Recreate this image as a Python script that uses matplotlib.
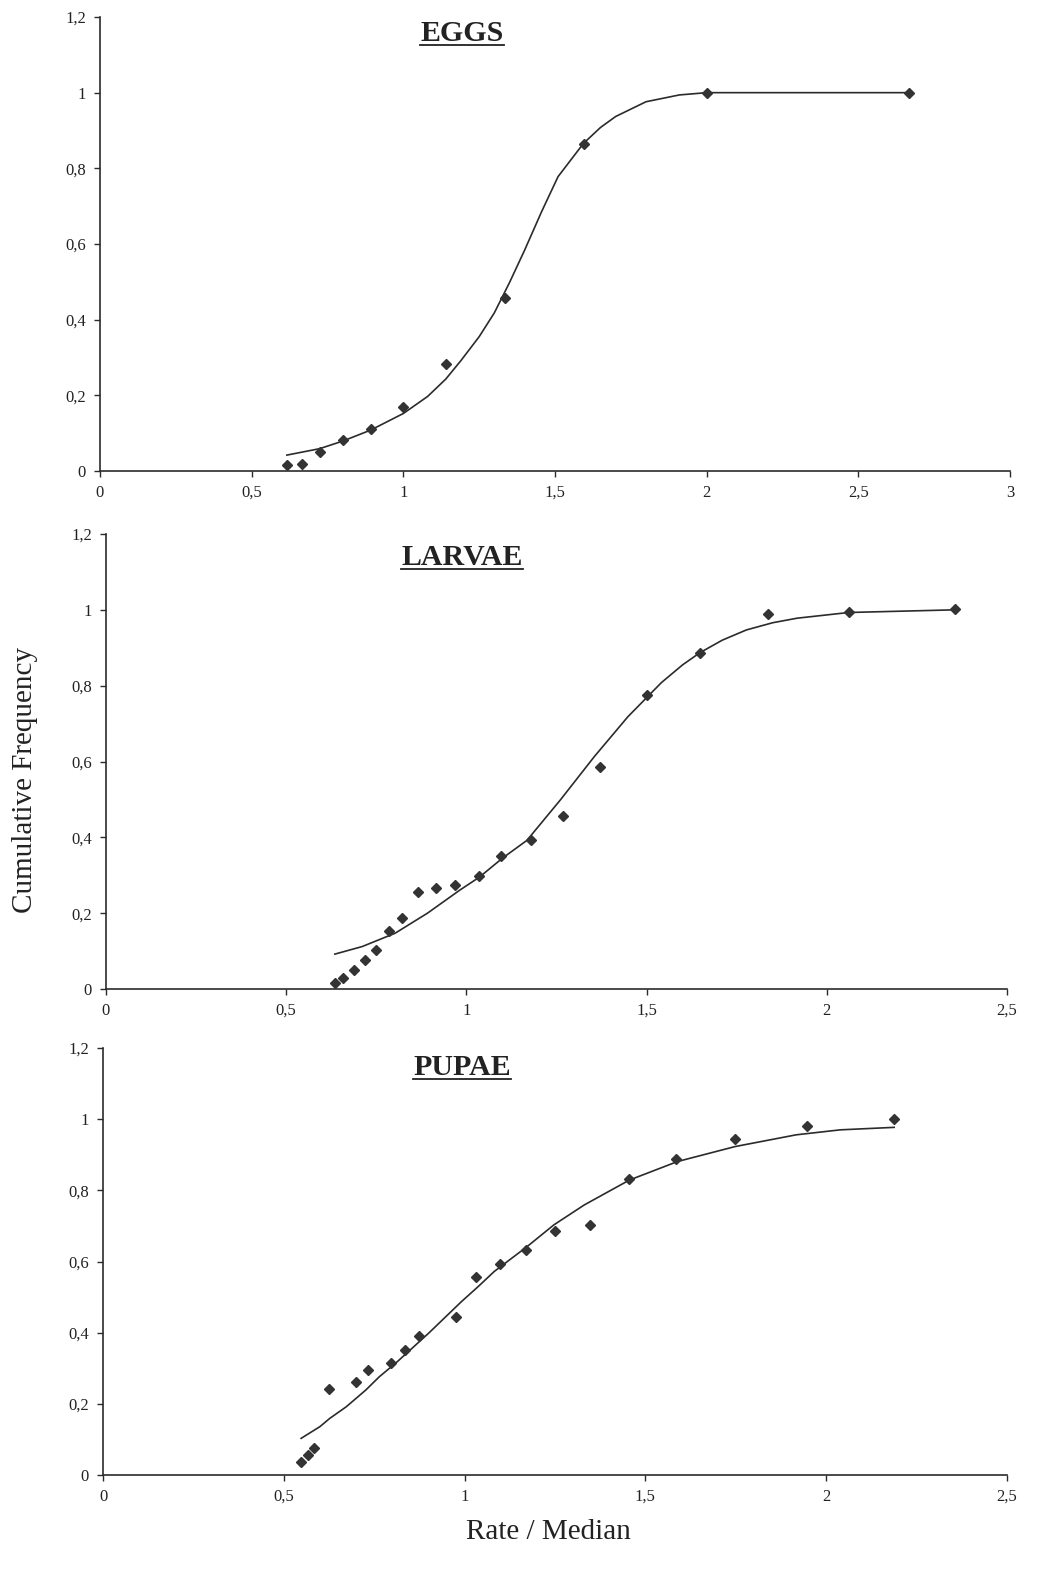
import matplotlib.pyplot as plt
from matplotlib.lines import Line2D

# Data.
eggs_x = [0.616, 0.665, 0.724, 0.800, 0.892, 1.000, 1.142, 1.335, 1.594, 2.000, 2.667]
eggs_y = [0.015, 0.018, 0.049, 0.083, 0.110, 0.168, 0.282, 0.458, 0.864, 1.000, 1.000]
eggs_fit_x = [0.616, 0.724, 0.800, 0.892, 1.000, 1.080, 1.140, 1.190, 1.250, 1.300, 1.350,
              1.400, 1.455, 1.510, 1.594, 1.650, 1.700, 1.800, 1.910, 2.000, 2.667]
eggs_fit_y = [0.042, 0.059, 0.079, 0.108, 0.152, 0.197, 0.243, 0.292, 0.355, 0.418, 0.498,
              0.584, 0.684, 0.778, 0.866, 0.908, 0.937, 0.976, 0.994, 1.000, 1.000]

larvae_x = [0.635, 0.658, 0.688, 0.718, 0.750, 0.785, 0.821, 0.867, 0.917, 0.969, 1.034,
            1.097, 1.178, 1.268, 1.372, 1.500, 1.648, 1.836, 2.061, 2.355]
larvae_y = [0.015, 0.028, 0.050, 0.077, 0.103, 0.153, 0.187, 0.257, 0.266, 0.274, 0.299,
            0.351, 0.393, 0.456, 0.585, 0.776, 0.887, 0.989, 0.995, 1.002]
larvae_fit_x = [0.635, 0.711, 0.802, 0.892, 0.982, 1.036, 1.100, 1.168, 1.261, 1.355, 1.448,
                1.541, 1.600, 1.648, 1.710, 1.777, 1.850, 1.918, 2.061, 2.355]
larvae_fit_y = [0.092, 0.112, 0.147, 0.200, 0.261, 0.295, 0.345, 0.392, 0.499, 0.613, 0.718,
                0.808, 0.855, 0.887, 0.920, 0.947, 0.966, 0.978, 0.993, 1.000]

pupae_x = [0.548, 0.566, 0.583, 0.624, 0.700, 0.732, 0.797, 0.836, 0.875, 0.975, 1.032,
           1.098, 1.171, 1.250, 1.346, 1.456, 1.586, 1.748, 1.946, 2.188]
pupae_y = [0.036, 0.056, 0.075, 0.241, 0.261, 0.295, 0.316, 0.351, 0.391, 0.445, 0.556,
           0.592, 0.633, 0.687, 0.703, 0.832, 0.888, 0.944, 0.982, 1.000]
pupae_fit_x = [0.548, 0.600, 0.627, 0.673, 0.727, 0.764, 0.809, 0.900, 0.991, 1.037, 1.082,
               1.173, 1.247, 1.331, 1.456, 1.589, 1.748, 1.917, 2.039, 2.188]
pupae_fit_y = [0.103, 0.136, 0.159, 0.192, 0.239, 0.276, 0.314, 0.398, 0.487, 0.529, 0.572,
               0.642, 0.703, 0.759, 0.829, 0.881, 0.923, 0.956, 0.970, 0.977]

yticks = [0, 0.2, 0.4, 0.6, 0.8, 1.0, 1.2]
ytick_labels = ['0', '0,2', '0,4', '0,6', '0,8', '1', '1,2']
xticks_eggs = [0, 0.5, 1, 1.5, 2, 2.5, 3]
xtick_labels_eggs = ['0', '0,5', '1', '1,5', '2', '2,5', '3']
xticks_other = [0, 0.5, 1, 1.5, 2, 2.5]
xtick_labels_other = ['0', '0,5', '1', '1,5', '2', '2,5']

################################################################################
# Plot.                                                                        #
################################################################################

W, H = 1038, 1584
plt.rcParams['font.family'] = ['Liberation Serif', 'DejaVu Serif']
ink = '#2b2b2b'

fig = plt.figure(figsize=(W/100., H/100.), dpi=100)
fig.patch.set_facecolor('white')

# Axes boxes in pixels: left, top (y=1.2), right, bottom (y=0).
boxes = [(100, 17, 1010, 471), (106, 534, 1007, 989), (103, 1048, 1007, 1475)]
panels = [
  ('EGGS',   eggs_x,   eggs_y,   eggs_fit_x,   eggs_fit_y,   xticks_eggs,  xtick_labels_eggs,  3.0, 41),
  ('LARVAE', larvae_x, larvae_y, larvae_fit_x, larvae_fit_y, xticks_other, xtick_labels_other, 2.5, 565),
  ('PUPAE',  pupae_x,  pupae_y,  pupae_fit_x,  pupae_fit_y,  xticks_other, xtick_labels_other, 2.5, 1075),
]

titles = []
for (l, t, r, b), (name, x, y, fx, fy, xt, xtl, xmax, tb) in zip(boxes, panels):
  ax = fig.add_axes([l/W, 1 - b/H, (r - l)/W, (b - t)/H])
  ax.plot(fx, fy, '-', color=ink, lw=1.2, zorder=2)
  ax.plot(x, y, 'D', color='#333333', ms=4.8, mec='#333333', zorder=3)
  ax.set_xlim(0, xmax)
  ax.set_ylim(0, 1.2)
  ax.set_xticks(xt)
  ax.set_xticklabels(xtl)
  ax.set_yticks(yticks)
  ax.set_yticklabels(ytick_labels)
  for s in ['top', 'right']:
    ax.spines[s].set_visible(False)
  for s in ['left', 'bottom']:
    ax.spines[s].set_color(ink)
    ax.spines[s].set_linewidth(1.2)
  ax.tick_params(direction='out', length=4, width=1.0, color=ink, labelcolor='#222222',
                 labelsize=12, pad=6)
  ax.set_facecolor('none')
  titles.append(fig.text(462/W, 1 - tb/H, name, ha='center', va='baseline',
                         fontsize=21.5, fontweight='bold', color='#222222'))

# Underline the panel titles.
fig.canvas.draw()
rend = fig.canvas.get_renderer()
for txt in titles:
  bb = txt.get_window_extent(renderer=rend)
  yb = txt.get_position()[1]*H - 4
  fig.add_artist(Line2D([bb.x0/W, bb.x1/W], [yb/H, yb/H], transform=fig.transFigure,
                        color='#222222', lw=1.3))

# Shared axis labels.
fig.text(25/W, 1 - 780/H, 'Cumulative Frequency', rotation=90, ha='center', va='center',
         fontsize=21, color='#222222')
fig.text(548/W, 1 - 1532/H, 'Rate / Median', ha='center', va='center',
         fontsize=21, color='#222222')

fig.savefig('out.png', dpi=100)
plt.close()
